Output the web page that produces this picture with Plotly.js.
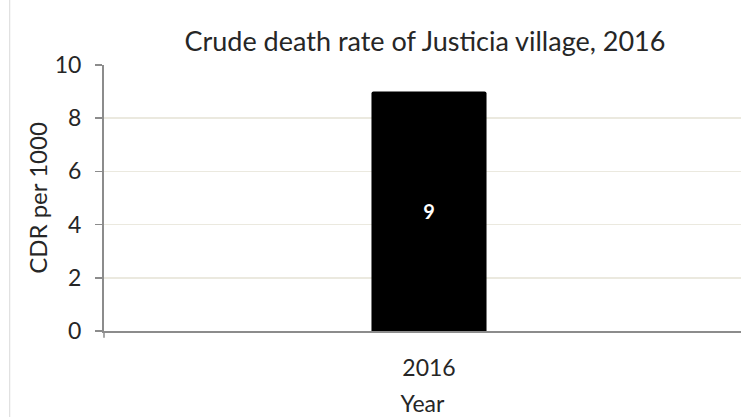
<!DOCTYPE html>
<html>
<head>
<meta charset="utf-8">
<script src="https://cdn.plot.ly/plotly-3.0.1.min.js"></script>
<style>html,body{margin:0;padding:0;background:#fff;}#chart{width:741px;height:417px;}</style>
</head>
<body>
<div id="chart"></div>
<script>
const categories = ["2016"];
const cdrValues = [9];
const valueLabels = ["9"];
const yTickVals = [0, 2, 4, 6, 8, 10];
const titleText = "Crude death rate of Justicia village, 2016";
const xTitle = "Year";
const yTitle = "CDR per 1000";

const FONT = "Lato, 'Open Sans', sans-serif";
const TXT = "#262626";

const trace = {
  type: "bar",
  x: categories,
  y: cdrValues,
  text: valueLabels,
  textposition: "inside",
  insidetextanchor: "middle",
  textfont: {family: FONT, size: 20, color: "#ffffff", weight: "bold"},
  marker: {color: "#000000", cornerradius: 2},
  width: 0.177,
  hoverinfo: "none"
};

const layout = {
  width: 741, height: 417,
  margin: {l: 104, r: 0, t: 65, b: 86},
  paper_bgcolor: "#ffffff",
  plot_bgcolor: "#ffffff",
  showlegend: false,
  font: {family: FONT, color: TXT},
  title: {text: titleText, font: {family: FONT, size: 27, color: TXT}, x: 0.5735, xanchor: "center", y: 0.9, yanchor: "middle"},
  xaxis: {
    type: "category",
    range: [-0.5, 0.48],
    showline: true, linecolor: "#8c8c8c", linewidth: 2,
    ticks: "", showgrid: false,
    ticklabelstandoff: 15,
    tickfont: {family: FONT, size: 23, color: TXT},
    title: {text: xTitle, font: {family: FONT, size: 23, color: TXT}, standoff: 20},
    fixedrange: true
  },
  yaxis: {
    range: [0, 10],
    tickvals: yTickVals,
    showline: true, linecolor: "#8c8c8c", linewidth: 2,
    ticks: "outside", ticklen: 7, tickcolor: "#8c8c8c", tickwidth: 1.5,
    ticklabelstandoff: 9,
    showgrid: true, gridcolor: "#ebe9df", gridwidth: 1.5,
    zeroline: false,
    tickfont: {family: FONT, size: 23, color: TXT},
    title: {text: yTitle, font: {family: FONT, size: 24, color: TXT}, standoff: 0},
    fixedrange: true
  },
  shapes: [
    {type: "line", xref: "paper", yref: "paper", x0: -0.148, x1: -0.148, y0: -0.33, y1: 1.25, line: {color: "#d9d9d9", width: 1}},
    {type: "line", xref: "paper", yref: "paper", x0: 0, x1: 0, y0: 0, y1: -0.025, line: {color: "#8c8c8c", width: 1.5}}
  ]
};

Plotly.newPlot("chart", [trace], layout, {staticPlot: true, displayModeBar: false});
</script>
</body>
</html>
